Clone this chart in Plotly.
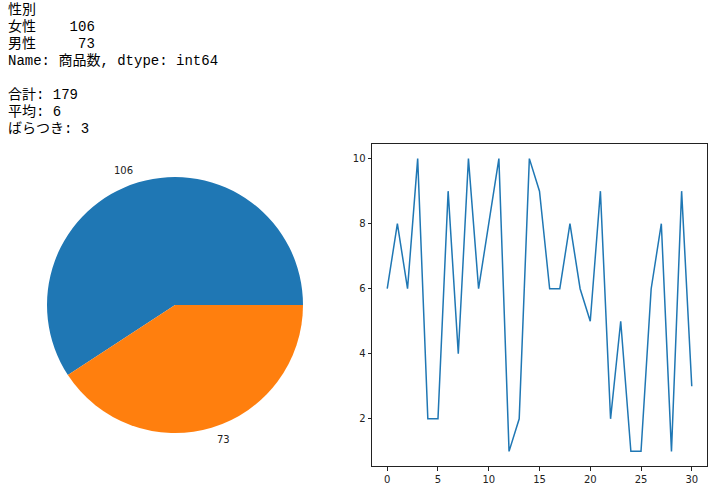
import math
import plotly.graph_objects as go

# ---- data ----
genders = ["女性", "男性"]
counts = [106, 73]
series_x = list(range(31))
series_y = [6, 8, 6, 10, 2, 2, 9, 4, 10, 6, 8, 10, 1, 2, 10, 9, 6, 6, 8, 6, 5, 9, 2, 5, 1, 1, 6, 8, 1, 9, 3]
text_lines = [
    "性別",
    "女性    106",
    "男性     73",
    "Name: 商品数, dtype: int64",
    "",
    "合計: 179",
    "平均: 6",
    "ばらつき: 3",
]

W, H = 714, 496
colors = ["#1f77b4", "#ff7f0e"]

def px_x(p):
    return p / W

def px_y(p):
    return 1 - p / H

fig = go.Figure()

total = sum(counts)
# matplotlib: first wedge starts at 3 o'clock and runs counterclockwise.
# Equivalent plotly: clockwise, starting where the first wedge ends.
first_end = 360.0 * counts[0] / total
rot = 90.0 - first_end

pcx, pcy, pr = 175, 305, 128
fig.add_trace(go.Pie(
    labels=genders, values=counts, sort=False, direction="clockwise",
    rotation=rot, textinfo="none", hoverinfo="skip", showlegend=False,
    marker=dict(colors=colors, line=dict(width=0)),
    domain=dict(x=[px_x(pcx - pr), px_x(pcx + pr)], y=[px_y(pcy + pr), px_y(pcy - pr)]),
))

# line
fig.add_trace(go.Scatter(
    x=series_x, y=series_y, mode="lines", line=dict(color="#1f77b4", width=1.5),
    hoverinfo="skip", showlegend=False,
))

annotations = []
# pie labels (matplotlib style, labeldistance 1.1)
start = 0.0
for v in counts:
    ang = start + v / total * 180.0
    start += v / total * 360.0
    a = math.radians(ang)
    lx = pcx + 1.1 * pr * math.cos(a)
    ly = pcy - 1.1 * pr * math.sin(a)
    annotations.append(dict(
        x=px_x(lx), y=px_y(ly), xref="paper", yref="paper", text=str(v),
        showarrow=False, xanchor="right" if math.cos(a) < 0 else "left", yanchor="middle",
        font=dict(family="DejaVu Sans", size=10, color="#222"),
    ))

# text output lines
for i, t in enumerate(text_lines):
    if not t:
        continue
    annotations.append(dict(
        x=px_x(6), y=px_y(10 + 17 * i), xref="paper", yref="paper",
        text=t.replace(" ", "\u00a0"), showarrow=False, xanchor="left", yanchor="middle",
        font=dict(family="Liberation Mono, Noto Sans CJK JP", size=14, color="#000"),
    ))

fig.update_layout(
    width=W, height=H, margin=dict(l=0, r=0, t=0, b=0),
    paper_bgcolor="white", plot_bgcolor="white",
    annotations=annotations,
    xaxis=dict(domain=[px_x(372), px_x(707)], range=[-1.5, 31.5], tickvals=[0, 5, 10, 15, 20, 25, 30],
               showgrid=False, zeroline=False, showline=True, linecolor="#222", linewidth=1, mirror=True,
               ticks="outside", ticklen=3.5, tickcolor="#222",
               tickfont=dict(family="DejaVu Sans", size=10, color="#222")),
    yaxis=dict(domain=[px_y(466), px_y(144)], range=[0.55, 10.45], tickvals=[2, 4, 6, 8, 10],
               showgrid=False, zeroline=False, showline=True, linecolor="#222", linewidth=1, mirror=True,
               ticks="outside", ticklen=3.5, tickcolor="#222",
               tickfont=dict(family="DejaVu Sans", size=10, color="#222")),
)

fig.write_html("out.html")
